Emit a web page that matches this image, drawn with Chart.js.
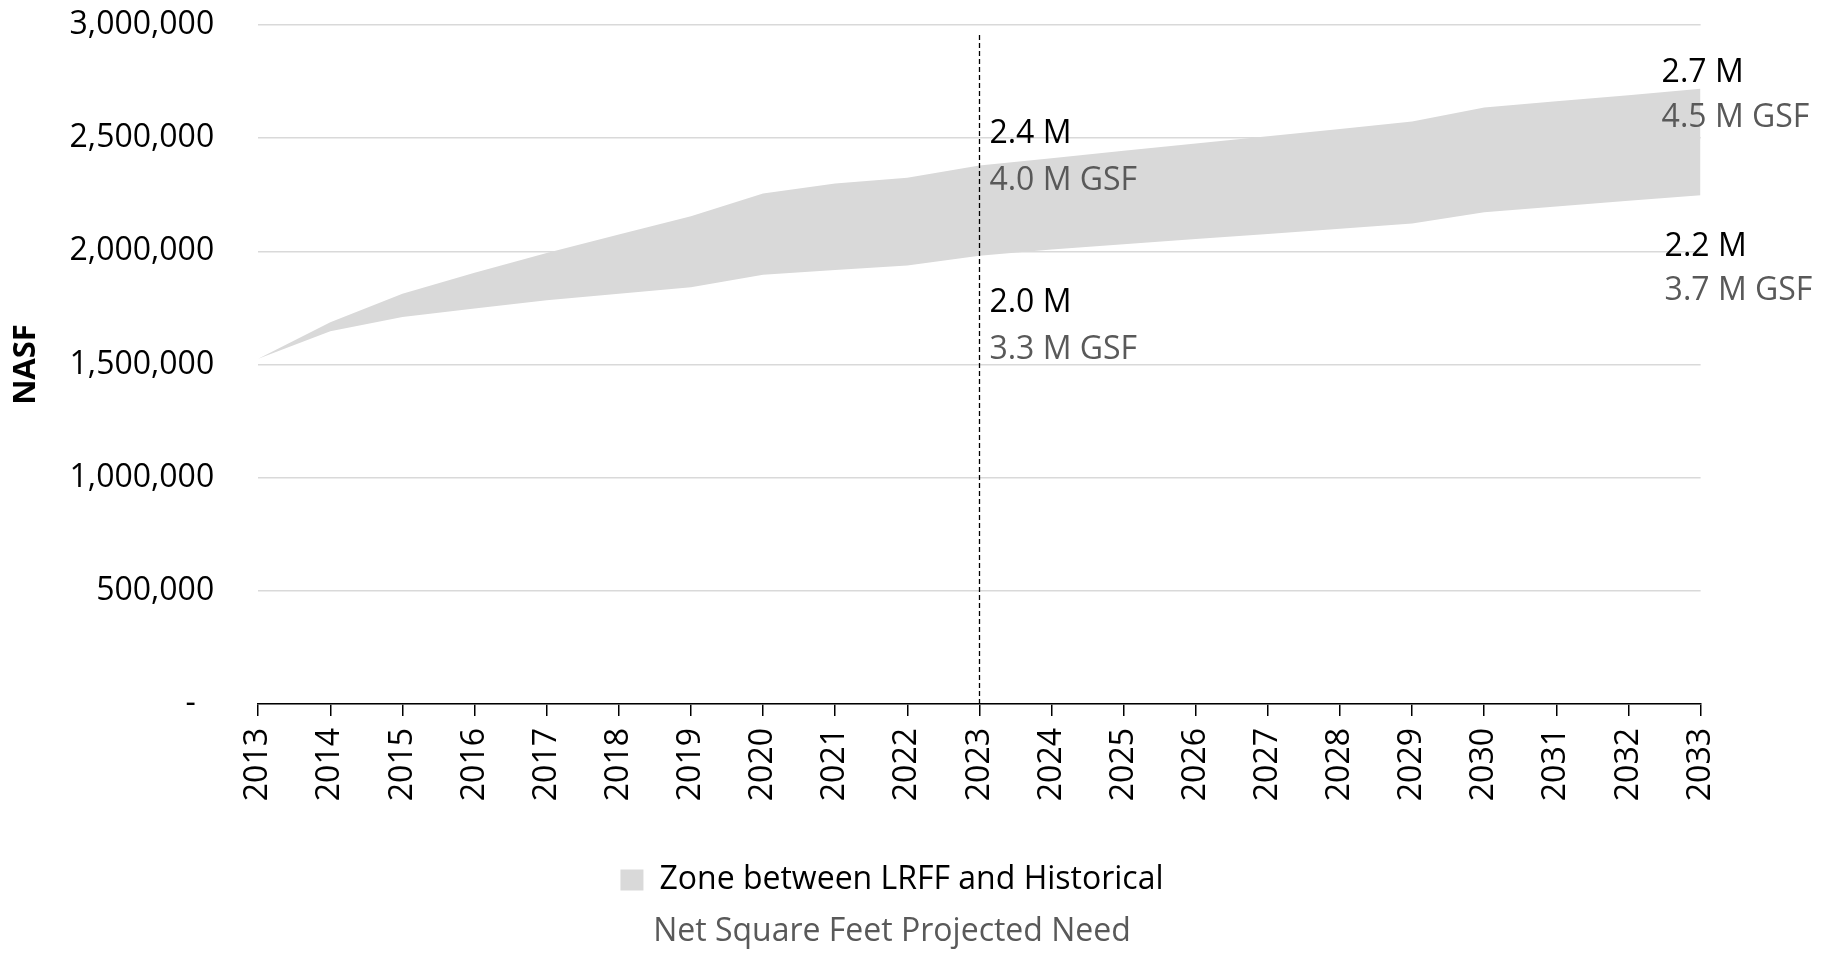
<!DOCTYPE html>
<html>
<head>
<meta charset="utf-8">
<script src="https://cdn.jsdelivr.net/npm/chart.js@4.4.1/dist/chart.umd.min.js"></script>
<style>
  html, body { margin: 0; padding: 0; background: #fff; }
  #wrap { width: 1841px; height: 953px; position: relative; }
</style>
</head>
<body>
<div id="wrap"><canvas id="c"></canvas></div>
<script>
// ---- Data ----
const years = ['2013','2014','2015','2016','2017','2018','2019','2020','2021','2022','2023',
               '2024','2025','2026','2027','2028','2029','2030','2031','2032','2033'];
const lrff = [1525000,1687000,1813000,1905000,1993000,2074000,2155000,2256000,2300000,2325000,2379000,
              2411000,2444000,2476000,2509000,2541000,2574000,2635000,2663000,2690000,2718000];
const historical = [1525000,1647000,1710000,1747000,1784000,1813000,1841000,1896000,1917000,1937000,1981000,
                    2008000,2031000,2054000,2077000,2100000,2123000,2173000,2198000,2223000,2248000];
const yTicks = [0,500000,1000000,1500000,2000000,2500000,3000000];
const dividerYear = '2023';
const labelYears = ['2023','2033'];
const upperText = ['2.4 M','2.7 M'];
const upperGsfText = ['4.0 M GSF','4.5 M GSF'];
const lowerText = ['2.0 M','2.2 M'];
const lowerGsfText = ['3.3 M GSF','3.7 M GSF'];
const legendText = 'Zone between LRFF and Historical';
const titleText = 'Net Square Feet Projected Need';
const yTitle = 'NASF';

// ---- Styles ----
const FONT = "'Open Sans', sans-serif";
const AREA = '#d9d9d9';
const GRAY_TEXT = '#595959';
const labelOffsets = [
  {dxU: 10, dxL: 10, u1: -32, u2: 15, l1: 47.5, l2: 94},
  {dxU: -39, dxL: -36, u1: -16, u2: 29, l1: 52, l2: 96}
];

const annotPlugin = {
  id: 'annot',
  afterDatasetsDraw(chart) {
    const {ctx, chartArea, scales} = chart;
    const x = scales.x, y = scales.y;
    ctx.save();
    // dashed divider
    const dpx = Math.round(x.getPixelForValue(years.indexOf(dividerYear))) + 0.5;
    ctx.strokeStyle = '#000';
    ctx.lineWidth = 1.3;
    ctx.setLineDash([5, 3]);
    ctx.beginPath();
    ctx.moveTo(dpx, chartArea.bottom);
    ctx.lineTo(dpx, chartArea.top + 8);
    ctx.stroke();
    ctx.setLineDash([]);
    // value labels
    ctx.font = '32px ' + FONT;
    ctx.textAlign = 'left';
    ctx.textBaseline = 'middle';
    labelYears.forEach((yr, k) => {
      const i = years.indexOf(yr);
      const px = x.getPixelForValue(i);
      const pu = y.getPixelForValue(lrff[i]);
      const pl = y.getPixelForValue(historical[i]);
      const o = labelOffsets[k];
      ctx.fillStyle = '#000';
      ctx.fillText(upperText[k], px + o.dxU, pu + o.u1);
      ctx.fillText(lowerText[k], px + o.dxL, pl + o.l1);
      ctx.fillStyle = GRAY_TEXT;
      ctx.fillText(upperGsfText[k], px + o.dxU, pu + o.u2);
      ctx.fillText(lowerGsfText[k], px + o.dxL, pl + o.l2);
    });
    ctx.restore();
  }
};

function build() {
  Chart.defaults.font.family = FONT;
  Chart.defaults.font.size = 32;
  Chart.defaults.color = '#000';
  new Chart(document.getElementById('c'), {
    type: 'line',
    data: {
      labels: years,
      datasets: [
        { label: 'Historical', data: historical, borderWidth: 0, pointRadius: 0,
          borderColor: 'rgba(0,0,0,0)', fill: false },
        { label: 'LRFF', data: lrff, borderWidth: 0, pointRadius: 0,
          borderColor: 'rgba(0,0,0,0)', backgroundColor: AREA, fill: '-1' }
      ]
    },
    options: {
      responsive: true,
      maintainAspectRatio: false,
      animation: false,
      layout: { padding: { top: 25, left: 0, right: 57, bottom: 0 } },
      elements: { line: { tension: 0 } },
      scales: {
        x: {
          type: 'category',
          offset: false,
          grid: { display: true, drawOnChartArea: false, drawTicks: true, tickLength: 12,
                  color: '#000', lineWidth: 1.5 },
          border: { display: true, color: '#000', width: 1.5 },
          ticks: { autoSkip: false, minRotation: 90, maxRotation: 90, padding: 12,
                   color: '#000', font: { size: 32 } },
          afterFit: s => { s.height = 150; }
        },
        y: {
          min: 0, max: 3000000,
          afterBuildTicks: s => { s.ticks = yTicks.map(v => ({ value: v })); },
          grid: { color: AREA, lineWidth: 1.5, drawTicks: true, tickLength: 44,
                  tickColor: 'rgba(0,0,0,0)' },
          border: { display: false },
          ticks: { padding: 0, color: '#000', font: { size: 32 },
                   callback: v => v === 0 ? '-\u2007' : Number(v).toLocaleString('en-US') },
          title: { display: true, text: yTitle, color: '#000',
                   font: { size: 31, weight: 'bold' }, padding: { top: 8, bottom: 0 } },
          afterFit: s => { s.width = 258.2; }
        },
        y2: {
          position: 'right',
          display: true,
          grid: { display: false, drawTicks: false },
          border: { display: false },
          ticks: { display: false, padding: 0 },
          afterFit: s => { s.width = 83.4; }
        }
      },
      plugins: {
        legend: {
          display: true,
          position: 'bottom',
          labels: {
            boxWidth: 23, boxHeight: 21, padding: 10, color: '#000',
            font: { size: 32 },
            generateLabels: () => [{ text: legendText, fillStyle: AREA,
              strokeStyle: 'rgba(0,0,0,0)', lineWidth: 0, hidden: false, datasetIndex: 1 }]
          }
        },
        title: {
          display: true, position: 'bottom', text: titleText, color: GRAY_TEXT,
          font: { size: 32, weight: 'normal' }, padding: { top: 6.6, bottom: 2 }
        },
        tooltip: { enabled: false }
      }
    },
    plugins: [annotPlugin]
  });
}

if (document.fonts && document.fonts.load) {
  Promise.all([
    document.fonts.load("32px 'Open Sans'"),
    document.fonts.load("bold 31px 'Open Sans'")
  ]).then(build, build);
} else {
  build();
}
</script>
</body>
</html>
